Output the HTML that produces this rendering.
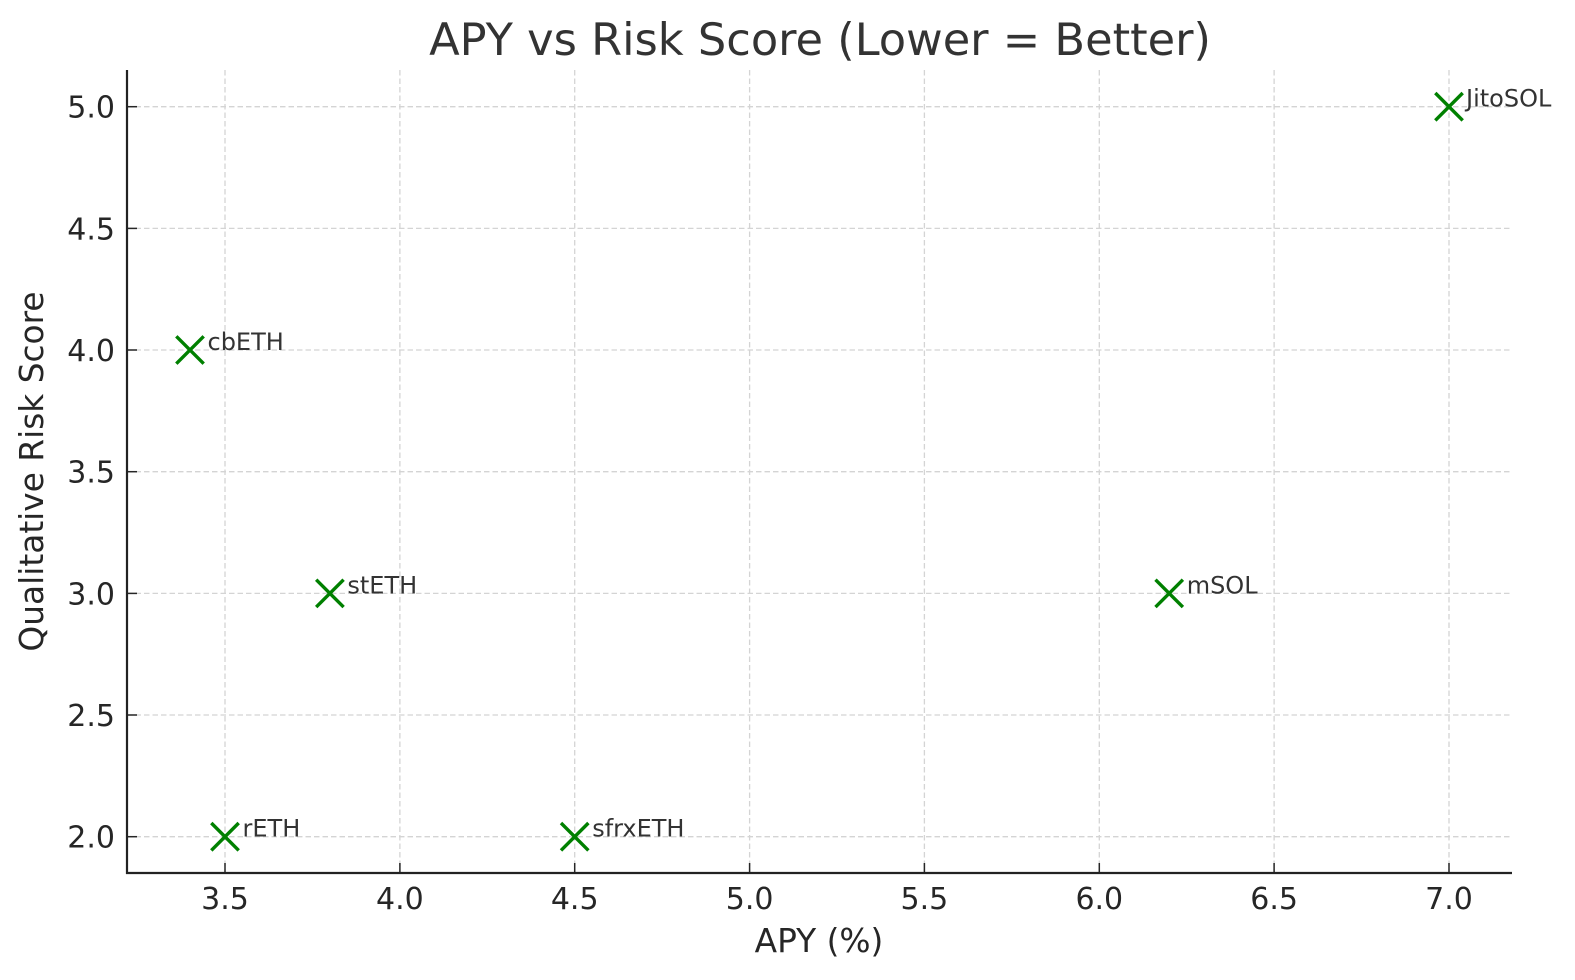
<!DOCTYPE html>
<html><head><meta charset="utf-8"><style>
html,body{margin:0;padding:0;background:#fff;}
svg{display:block;font-family:"DejaVu Sans","Liberation Sans",sans-serif;}
</style></head><body>
<svg width="1575" height="980" viewBox="0 0 1575 980" xmlns="http://www.w3.org/2000/svg">
<rect width="1575" height="980" fill="#fff"/>
<g stroke="#d4d4d4" stroke-width="1.3" stroke-dasharray="5.5,3" fill="none">
<line x1="225" y1="70" x2="225" y2="873"/>
<line x1="399.9" y1="70" x2="399.9" y2="873"/>
<line x1="574.7" y1="70" x2="574.7" y2="873"/>
<line x1="749.6" y1="70" x2="749.6" y2="873"/>
<line x1="924.4" y1="70" x2="924.4" y2="873"/>
<line x1="1099.3" y1="70" x2="1099.3" y2="873"/>
<line x1="1274.1" y1="70" x2="1274.1" y2="873"/>
<line x1="1449" y1="70" x2="1449" y2="873"/>
<line x1="127" y1="836.7" x2="1512" y2="836.7"/>
<line x1="127" y1="715" x2="1512" y2="715"/>
<line x1="127" y1="593.4" x2="1512" y2="593.4"/>
<line x1="127" y1="471.7" x2="1512" y2="471.7"/>
<line x1="127" y1="350" x2="1512" y2="350"/>
<line x1="127" y1="228.4" x2="1512" y2="228.4"/>
<line x1="127" y1="106.7" x2="1512" y2="106.7"/>
</g>
<g stroke="#262626" stroke-width="1.5">
<line x1="225" y1="873" x2="225" y2="863"/>
<line x1="399.9" y1="873" x2="399.9" y2="863"/>
<line x1="574.7" y1="873" x2="574.7" y2="863"/>
<line x1="749.6" y1="873" x2="749.6" y2="863"/>
<line x1="924.4" y1="873" x2="924.4" y2="863"/>
<line x1="1099.3" y1="873" x2="1099.3" y2="863"/>
<line x1="1274.1" y1="873" x2="1274.1" y2="863"/>
<line x1="1449" y1="873" x2="1449" y2="863"/>
<line x1="127" y1="836.7" x2="137" y2="836.7"/>
<line x1="127" y1="715" x2="137" y2="715"/>
<line x1="127" y1="593.4" x2="137" y2="593.4"/>
<line x1="127" y1="471.7" x2="137" y2="471.7"/>
<line x1="127" y1="350" x2="137" y2="350"/>
<line x1="127" y1="228.4" x2="137" y2="228.4"/>
<line x1="127" y1="106.7" x2="137" y2="106.7"/>
</g>
<g stroke="#222" stroke-width="2.2" fill="none">
<line x1="127" y1="70" x2="127" y2="874"/>
<line x1="126" y1="873" x2="1512" y2="873"/>
</g>
<g stroke="#008000" stroke-width="3.4" fill="none">
<path d="M1435.3 93 L1462.7 120.4 M1435.3 120.4 L1462.7 93"/>
<path d="M176.3 336.3 L203.7 363.7 M176.3 363.7 L203.7 336.3"/>
<path d="M316.2 579.7 L343.6 607.1 M316.2 607.1 L343.6 579.7"/>
<path d="M1155.5 579.7 L1182.9 607.1 M1155.5 607.1 L1182.9 579.7"/>
<path d="M211.3 823 L238.7 850.4 M211.3 850.4 L238.7 823"/>
<path d="M561 823 L588.4 850.4 M561 850.4 L588.4 823"/>
</g>
<g fill="#333" font-size="24">
<text x="1466" y="106.7">JitoSOL</text>
<text x="207.5" y="350">cbETH</text>
<text x="347.4" y="593.4">stETH</text>
<text x="1186.7" y="593.4">mSOL</text>
<text x="242.5" y="836.7">rETH</text>
<text x="592.2" y="836.7">sfrxETH</text>
</g>
<g fill="#262626" font-size="30" text-anchor="middle">
<text x="225" y="909">3.5</text>
<text x="399.9" y="909">4.0</text>
<text x="574.7" y="909">4.5</text>
<text x="749.6" y="909">5.0</text>
<text x="924.4" y="909">5.5</text>
<text x="1099.3" y="909">6.0</text>
<text x="1274.1" y="909">6.5</text>
<text x="1449" y="909">7.0</text>
</g>
<g fill="#262626" font-size="30" text-anchor="end">
<text x="115" y="847.7">2.0</text>
<text x="115" y="726">2.5</text>
<text x="115" y="604.4">3.0</text>
<text x="115" y="482.7">3.5</text>
<text x="115" y="361">4.0</text>
<text x="115" y="239.4">4.5</text>
<text x="115" y="117.7">5.0</text>
</g>
<text x="819" y="952" fill="#262626" font-size="32.8" text-anchor="middle">APY (%)</text>
<text transform="translate(43,471.5) rotate(-90)" x="0" y="0" fill="#262626" font-size="32.8" text-anchor="middle">Qualitative Risk Score</text>
<text x="820" y="55" fill="#333" font-size="44.7" text-anchor="middle">APY vs Risk Score (Lower = Better)</text>
</svg>
</body></html>
